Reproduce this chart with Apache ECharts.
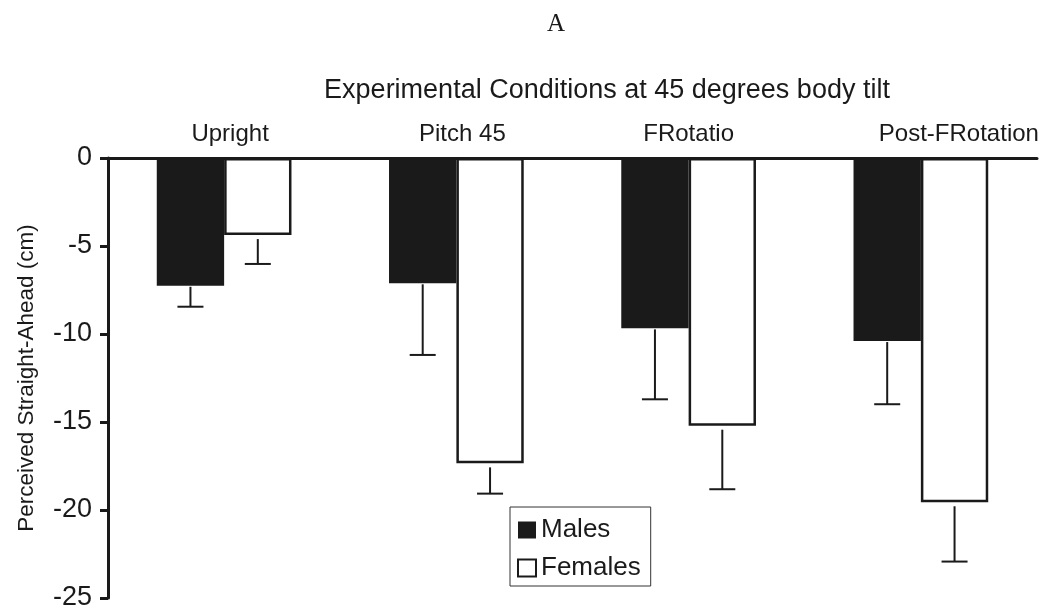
<!DOCTYPE html>
<html>
<head>
<meta charset="utf-8">
<script src="https://cdn.jsdelivr.net/npm/echarts@6/dist/echarts.min.js"></script>
<style>
html,body{margin:0;padding:0;background:#fff;}
#chart{width:1054px;height:615px;}
</style>
</head>
<body>
<div id="chart"></div>
<script>
// ---- data ----
const categories = ['Upright', 'Pitch 45', 'FRotatio', 'Post-FRotation'];
const seriesNames = ['Males', 'Females'];
const malesMean = [-7.26, -7.12, -9.68, -10.40];
const malesErrEnd = [-8.45, -11.19, -13.71, -13.99];
const femalesMean = [-4.38, -17.35, -15.21, -19.56];
const femalesErrEnd = [-6.02, -19.07, -18.82, -22.93];
const yTicks = [0, -5, -10, -15, -20, -25];
const panelLabel = 'A';
const subTitle = 'Experimental Conditions at 45 degrees body tilt';
const yAxisTitle = 'Perceived Straight-Ahead (cm)';

// ---- style constants ----
const labelShift = [6, 6, 0, 38];
const INK = '#1a1a1a';
const FONT = 'Liberation Sans, Arial, sans-serif';
const GROUP_FRAC = 0.58;
const CAT_FS = 24;

const chart = echarts.init(document.getElementById('chart'), null, {renderer: 'canvas'});

function errSeries(name, means, ends, side) {
  return {
    type: 'custom',
    name: name + ' err',
    silent: true,
    z: 5,
    data: means.map((m, i) => [i, m, ends[i]]),
    renderItem: function (params, api) {
      const i = api.value(0);
      const band = api.size([1, 0])[0];
      const off = side * band * GROUP_FRAC / 4;
      const p0 = api.coord([i, api.value(1)]);
      const p1 = api.coord([i, api.value(2)]);
      const x = p0[0] + off;
      const startY = p0[1] + (side > 0 ? 4 : 1);
      const cap = 13;
      const style = {stroke: INK, lineWidth: 2};
      return {
        type: 'group',
        children: [
          {type: 'line', shape: {x1: x, y1: startY, x2: x, y2: p1[1]}, style: style},
          {type: 'line', shape: {x1: x - cap, y1: p1[1], x2: x + cap, y2: p1[1]}, style: style}
        ]
      };
    }
  };
}

const richCat = {};
labelShift.forEach((s, i) => {
  richCat['s' + i] = {padding: [0, 0, 0, s * 2], fontFamily: FONT, fontSize: CAT_FS, color: INK};
});

const option = {
  backgroundColor: '#fff',
  animation: false,
  title: [
    {text: panelLabel, left: 551, top: 7, textAlign: 'center',
     textStyle: {fontFamily: 'Liberation Serif, serif', fontSize: 25, fontWeight: 'normal', color: INK}},
    {text: subTitle, left: 602, top: 72, textAlign: 'center',
     textStyle: {fontFamily: FONT, fontSize: 27, fontWeight: 'normal', color: INK}}
  ],
  grid: {left: 108, right: 17, top: 158, bottom: 17, containLabel: false, outerBoundsMode: 'none'},
  legend: {
    data: seriesNames,
    orient: 'vertical',
    left: 510, top: 507,
    padding: [10, 10, 5, 7],
    itemWidth: 18, itemHeight: 17, itemGap: 12,
    icon: 'rect',
    borderColor: '#333', borderWidth: 1,
    textStyle: {fontFamily: FONT, fontSize: 26, color: INK, padding: [0, 0, 0, 0]}
  },
  xAxis: {
    type: 'category',
    position: 'top',
    data: categories,
    axisLine: {show: true, onZero: false, lineStyle: {color: INK, width: 3}},
    axisTick: {show: false},
    axisLabel: {
      interval: 0,
      hideOverlap: false,
      margin: 12,
      fontFamily: FONT, fontSize: CAT_FS, color: INK,
      formatter: function (v, idx) { return '{s' + idx + '|' + v + '}'; },
      rich: richCat
    },
    splitLine: {show: false}
  },
  yAxis: {
    type: 'value',
    min: yTicks[yTicks.length - 1], max: yTicks[0], interval: 5,
    name: yAxisTitle,
    nameLocation: 'middle',
    nameRotate: 90,
    nameGap: 70,
    nameTextStyle: {fontFamily: FONT, fontSize: 22.5, color: INK},
    axisLine: {show: true, lineStyle: {color: INK, width: 3}},
    axisTick: {show: true, inside: false, length: 8, lineStyle: {color: INK, width: 3}},
    axisLabel: {margin: 16, fontFamily: FONT, fontSize: 27, color: INK},
    splitLine: {show: false}
  },
  series: [
    {
      name: seriesNames[0], type: 'bar', data: malesMean,
      barGap: '0%', barCategoryGap: '42%',
      itemStyle: {color: INK, borderColor: INK, borderWidth: 0}
    },
    {
      name: seriesNames[1], type: 'bar', data: femalesMean,
      barGap: '0%', barCategoryGap: '42%',
      itemStyle: {color: '#fff', borderColor: INK, borderWidth: 2.5}
    },
    errSeries(seriesNames[0], malesMean, malesErrEnd, -1),
    errSeries(seriesNames[1], femalesMean, femalesErrEnd, 1)
  ]
};
chart.setOption(option);
</script>
</body>
</html>
